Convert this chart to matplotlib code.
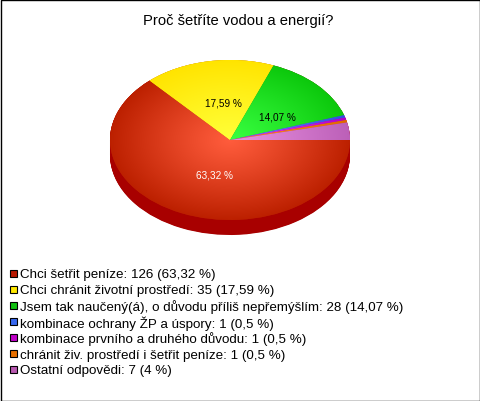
import numpy as np
import matplotlib
matplotlib.use('Agg')
import matplotlib.pyplot as plt
from matplotlib.patches import Rectangle
from matplotlib.colors import to_rgb

title = 'Proč šetříte vodou a energií?'
counts = [126, 35, 28, 1, 1, 1, 7]
percent_labels = ['63,32 %', '17,59 %', '14,07 %']
legend_labels = [
    'Chci šetřit peníze: 126 (63,32 %)',
    'Chci chránit životní prostředí: 35 (17,59 %)',
    'Jsem tak naučený(á), o důvodu příliš nepřemýšlím: 28 (14,07 %)',
    'kombinace ochrany ŽP a úspory: 1 (0,5 %)',
    'kombinace prvního a druhého důvodu: 1 (0,5 %)',
    'chránit živ. prostředí i šetřit peníze: 1 (0,5 %)',
    'Ostatní odpovědi: 7 (4 %)',
]

# barva uprostred, barva na okraji, barva v legende
inner_colors = ['#ff5c3c', '#ffff38', '#38ff40', '#7088ff', '#f040f0', '#ff9030', '#e890e0']
outer_colors = ['#bc2000', '#ffe400', '#0cc80c', '#3050e0', '#b000c8', '#e06800', '#bc60b8']
swatch_colors = ['#b81800', '#ffe800', '#10c010', '#3868f0', '#c000c8', '#e87000', '#b858b0']
side_color = '#a80000'

W, H = 480, 402
plt.rcParams['font.family'] = ['Liberation Sans', 'DejaVu Sans']

fig = plt.figure(figsize=(W / 100, H / 100), dpi=100, facecolor='white')

# ramecek kolem celeho obrazku
fig.add_artist(Rectangle((0.5 / W, 0.5 / H), (W - 1) / W, (H - 1) / H, transform=fig.transFigure,
                         facecolor='none', edgecolor='black', linewidth=1))

# osa pro kolac, sirka 240 px a vyska 160 px + 15 px bok
cx, cy, rx, ry, depth = 230, 141, 120, 80, 15
pad = 4
ax = fig.add_axes([(cx - rx - pad) / W, 1 - (cy + ry + depth + pad) / H,
                   (2 * rx + 2 * pad) / W, (2 * ry + depth + 2 * pad) / H])
xm = 1 + pad / rx
ym = pad / ry
dy = depth / ry

# bok kolace
for off in np.linspace(dy, 0, depth * 2 + 1):
    ax.pie(counts, startangle=0, counterclock=False, center=(0, -off), radius=1,
           colors=[side_color] * len(counts))

# horni plocha s radialnim prechodem
wedges, _ = ax.pie(counts, startangle=0, counterclock=False, center=(0, 0), radius=1,
                   colors=swatch_colors)
gx, gy = np.meshgrid(np.linspace(-1, 1, 300), np.linspace(-1, 1, 300))
dist = np.clip(np.sqrt(gx ** 2 + gy ** 2), 0, 1)[..., None] ** 1.1
for w, c1, c2 in zip(wedges, inner_colors, outer_colors):
    img = np.array(to_rgb(c1)) * (1 - dist) + np.array(to_rgb(c2)) * dist
    im = ax.imshow(img, extent=(-1, 1, -1, 1), origin='lower', aspect='auto', zorder=3,
                   interpolation='bilinear')
    im.set_clip_path(w)

ax.set_aspect('auto')
ax.set_xlim(-xm, xm)
ax.set_ylim(-1 - dy - ym, 1 + ym)
ax.axis('off')


def px_text(x, y, s, **kw):
    fig.text(x / W, 1 - y / H, s, **kw)


px_text(238, 21, title, fontsize=10.65, ha='center', va='center', color='black')

# popisky v kolaci
px_text(214, 176, percent_labels[0], fontsize=7.2, ha='center', va='center', color='white', zorder=5)
px_text(223, 103, percent_labels[1], fontsize=7.2, ha='center', va='center', color='black', zorder=5)
px_text(277, 118, percent_labels[2], fontsize=7.2, ha='center', va='center', color='black', zorder=5)

# legenda
for i, (label, col) in enumerate(zip(legend_labels, swatch_colors)):
    y = 274 + 16 * i
    fig.add_artist(Rectangle((9.5 / W, 1 - (y + 3.5) / H), 7 / W, 7 / H, transform=fig.transFigure,
                             facecolor=col, edgecolor='black', linewidth=0.8))
    px_text(20, y + 1.5, label, fontsize=9.62, ha='left', va='center', color='black')

fig.savefig('out.png', dpi=100, facecolor='white')
